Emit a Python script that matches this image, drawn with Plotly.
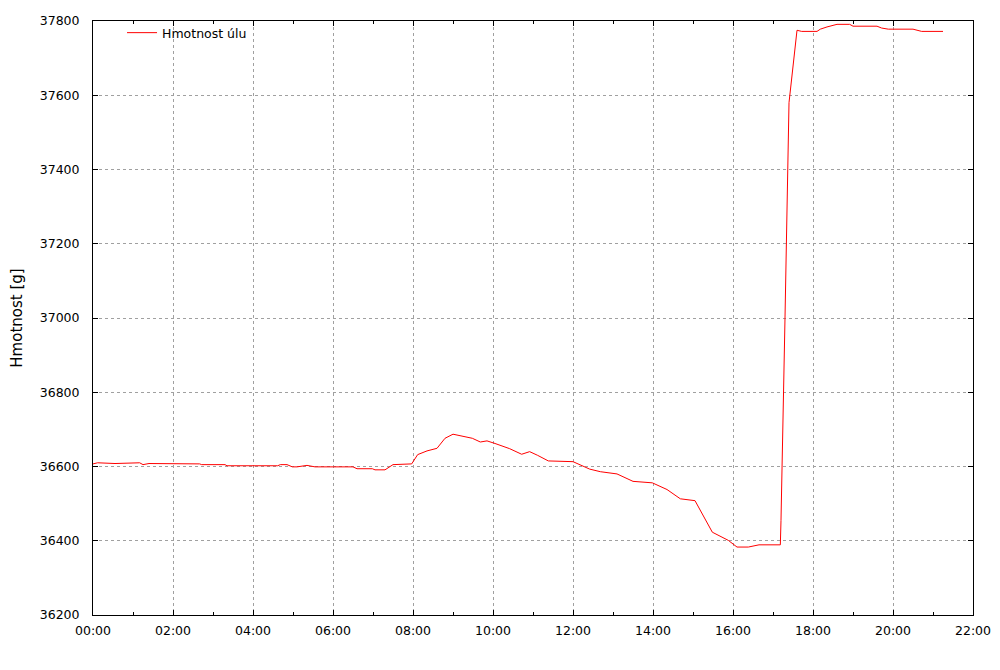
import plotly.graph_objects as go

# Data
times = ["00:00", "00:07", "00:33", "00:58", "01:10", "01:15", "01:24", "02:40", "02:43",
         "03:18", "03:21", "04:37", "04:41", "04:51", "04:59", "05:06", "05:21", "05:33",
         "06:30", "06:36", "06:59", "07:03", "07:18", "07:30", "07:58", "08:07", "08:21",
         "08:36", "08:48", "09:00", "09:15", "09:29", "09:41", "09:51", "10:03", "10:25",
         "10:43", "10:55", "11:07", "11:23", "12:00", "12:25", "12:41", "13:06", "13:30",
         "13:59", "14:21", "14:41", "15:03", "15:29", "15:53", "16:06", "16:23", "16:29",
         "16:39", "17:11", "17:12", "17:18", "17:24", "17:36", "17:43", "18:06", "18:11",
         "18:21", "18:29", "18:36", "18:55", "19:00", "19:36", "19:43", "19:53", "20:30",
         "20:43", "21:15"]
weights = [36607, 36610, 36608, 36610, 36610, 36605, 36608, 36607, 36605,
           36605, 36602, 36602, 36605, 36605, 36599, 36599, 36603, 36599,
           36599, 36594, 36594, 36591, 36591, 36605, 36607, 36632, 36642,
           36649, 36676, 36687, 36682, 36676, 36666, 36669, 36662, 36648,
           36633, 36640, 36630, 36615, 36613, 36593, 36586, 36580, 36560,
           36556, 36538, 36513, 36508, 36423, 36401, 36383, 36383, 36386,
           36389, 36389, 36455, 37000, 37580, 37775, 37772, 37772, 37778,
           37784, 37788, 37791, 37791, 37786, 37786, 37781, 37778, 37778,
           37772, 37772]
series_name = "Hmotnost úlu"
y_title = "Hmotnost [g]"
day = "2013-05-01"

x_vals = [f"{day} {t}:00" for t in times]

fig = go.Figure()
fig.add_trace(go.Scatter(x=x_vals, y=weights, mode="lines", name=series_name,
                         line=dict(color="#ff0000", width=1)))

font = dict(family="DejaVu Sans", size=12.5, color="#000000")

# page body has an 8px margin, so the figure is offset by (8, 8)
fig.update_layout(
    width=1000, height=670,
    margin=dict(l=85, r=35, t=10, b=63),
    paper_bgcolor="white", plot_bgcolor="white",
    font=font,
    showlegend=True,
    legend=dict(x=0.033, y=1.005, xanchor="left", yanchor="top",
                bgcolor="rgba(0,0,0,0)", font=font, borderwidth=0),
)
fig.update_xaxes(
    type="date", automargin=False,
    range=[f"{day} 00:00:00", f"{day} 22:00:00"],
    tickformat="%H:%M", dtick=2 * 3600 * 1000, tick0=f"{day} 00:00:00",
    showgrid=True, gridcolor="#a0a0a0", griddash="dot", gridwidth=1,
    showline=True, linecolor="#000000", linewidth=1, mirror="ticks",
    ticks="inside", ticklen=5, tickcolor="#000000",
    ticklabelstandoff=4,
    minor=dict(dtick=3600 * 1000, ticks="inside", ticklen=3, tickcolor="#000000", showgrid=False),
    zeroline=False,
)
fig.update_yaxes(
    automargin=False,
    range=[36200, 37800], dtick=200, tick0=36200,
    showgrid=True, gridcolor="#a0a0a0", griddash="dot", gridwidth=1,
    showline=True, linecolor="#000000", linewidth=1, mirror="ticks",
    ticks="inside", ticklen=5, tickcolor="#000000",
    tickformat="d", ticklabelstandoff=10,
    title=dict(text=y_title, standoff=16),
    zeroline=False,
)

fig.write_html("out.html")
